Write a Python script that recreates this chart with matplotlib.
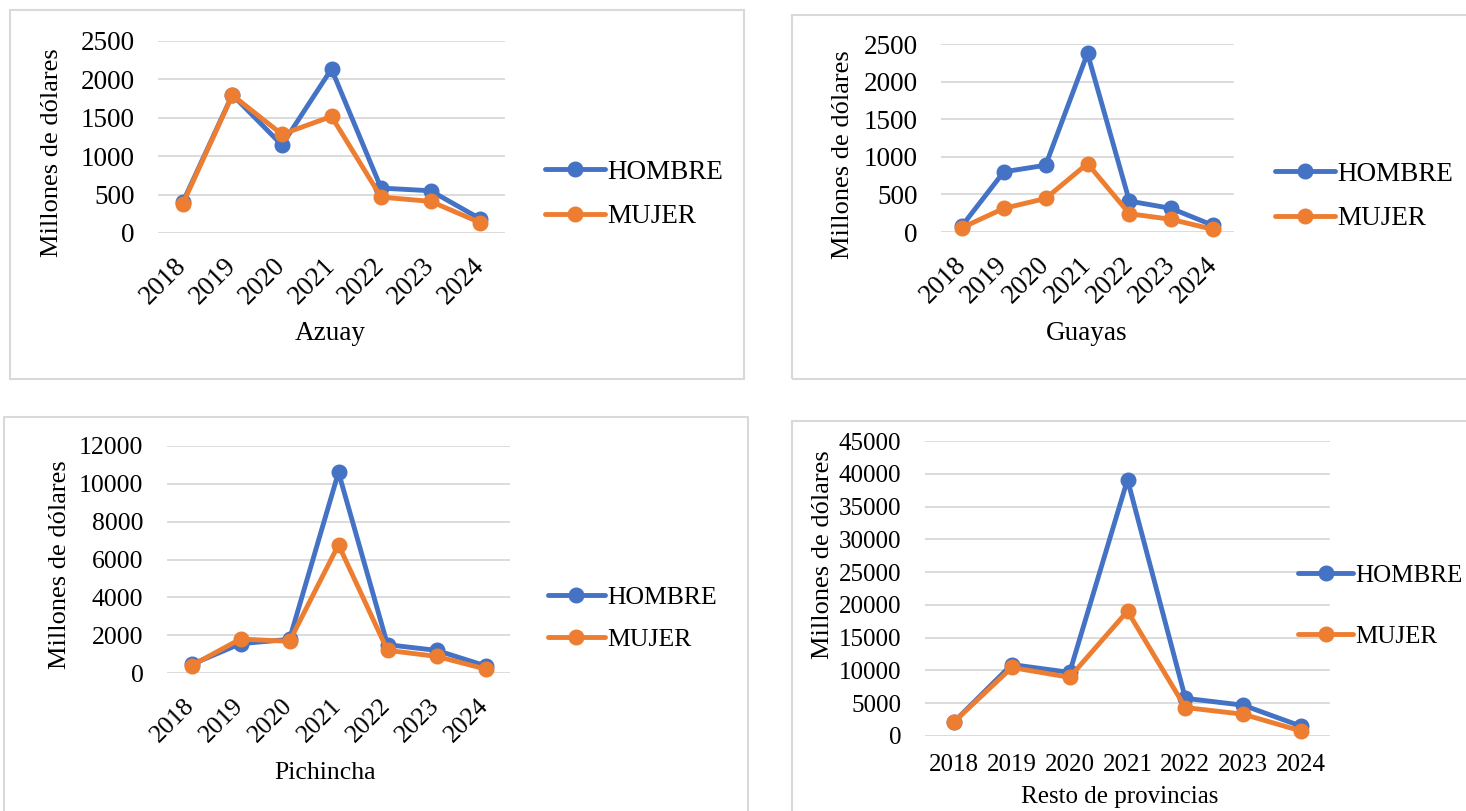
import matplotlib
matplotlib.use("Agg")
import matplotlib.pyplot as plt
from matplotlib.patches import Rectangle

plt.rcParams['font.family'] = ['Liberation Serif', 'DejaVu Serif']

years = ['2018', '2019', '2020', '2021', '2022', '2023', '2024']

azuay_hombre = [400, 1800, 1145, 2135, 585, 550, 185]
azuay_mujer = [380, 1795, 1285, 1518, 467, 412, 135]

guayas_hombre = [80, 800, 888, 2376, 411, 314, 88]
guayas_mujer = [57, 314, 446, 910, 243, 168, 35]

pichincha_hombre = [450, 1550, 1780, 10610, 1496, 1197, 380]
pichincha_mujer = [390, 1795, 1672, 6775, 1197, 880, 211]

resto_hombre = [2150, 10900, 9700, 39100, 5750, 4700, 1500]
resto_mujer = [2150, 10450, 8950, 19050, 4340, 3320, 770]

series_labels = ['HOMBRE', 'MUJER']
colors = ['#4472C4', '#ED7D31']
grid_color = '#D9D9D9'

W, H = 1466, 811
fig = plt.figure(figsize=(W / 100, H / 100), dpi=100)


def fx(x):
    return x / W


def fy(y):
    return 1 - y / H


def box(x0, y0, x1, y1):
    fig.patches.append(Rectangle((fx(x0), fy(y1)), fx(x1) - fx(x0), fy(y0) - fy(y1),
                                 transform=fig.transFigure, fill=False,
                                 edgecolor=grid_color, lw=1.5))


def panel(rect, hombre, mujer, ymax, ystep, title, title_xy, ylabel_xy,
          legend_xy, legend_spacing, fs, rotated=True):
    x0, y0, x1, y1 = rect
    ax = fig.add_axes([fx(x0), fy(y1), fx(x1) - fx(x0), fy(y0) - fy(y1)])
    xs = list(range(len(years)))
    for vals, lab, col in zip([hombre, mujer], series_labels, colors):
        ax.plot(xs, vals, color=col, lw=3.5, marker='o', markersize=10.5,
                label=lab, solid_capstyle='round', solid_joinstyle='round',
                clip_on=False)
    ax.set_xlim(-0.5, len(years) - 0.5)
    ax.set_ylim(0, ymax)
    ax.set_yticks(range(0, ymax + 1, ystep))
    ax.set_yticklabels([str(v) for v in range(0, ymax + 1, ystep)], fontsize=fs)
    ax.set_xticks(xs)
    if rotated:
        ax.set_xticklabels(years, fontsize=fs, rotation=45, ha='right',
                           va='center', rotation_mode='anchor')
        ax.tick_params(axis='x', pad=21)
    else:
        ax.set_xticklabels(years, fontsize=fs)
        ax.tick_params(axis='x', pad=13)
    ax.tick_params(length=0)
    ax.tick_params(axis='y', pad=17)
    for s in ax.spines.values():
        s.set_visible(False)
    ax.grid(axis='y', color=grid_color, lw=1.3)
    ax.set_axisbelow(True)
    fig.text(fx(title_xy[0]), fy(title_xy[1]), title, fontsize=fs,
             ha='center', va='center')
    fig.text(fx(ylabel_xy[0]), fy(ylabel_xy[1]), 'Millones de dólares',
             fontsize=19, rotation=90, ha='center', va='center')
    ax.legend(loc='center left', bbox_to_anchor=(fx(legend_xy[0]), fy(legend_xy[1])),
              bbox_transform=fig.transFigure, frameon=False, fontsize=fs,
              handlelength=2.2, handletextpad=0.1, borderpad=0,
              borderaxespad=0, labelspacing=legend_spacing)
    return ax


# panel frames
box(10, 10, 744, 379)
box(792, 15, 1470, 379)
box(4, 417, 748, 815)
box(792, 421, 1470, 815)

panel((158, 41, 505, 233), azuay_hombre, azuay_mujer, 2500, 500, 'Azuay',
      (330, 333), (52, 153), (545, 194.5), 0.72, 19.5)
panel((941, 44, 1234, 232), guayas_hombre, guayas_mujer, 2500, 500, 'Guayas',
      (1087, 333), (843, 155), (1275, 196.5), 0.72, 19.5)
panel((167, 446, 510, 673), pichincha_hombre, pichincha_mujer, 12000, 2000, 'Pichincha',
      (325, 773), (60, 565), (548, 618.5), 0.75, 18.5)
panel((925, 441, 1330, 736), resto_hombre, resto_mujer, 45000, 5000, 'Resto de provincias',
      (1120, 797), (823, 555), (1298, 606), 1.55, 18, rotated=False)

fig.savefig('out.png', dpi=100, facecolor='white')
